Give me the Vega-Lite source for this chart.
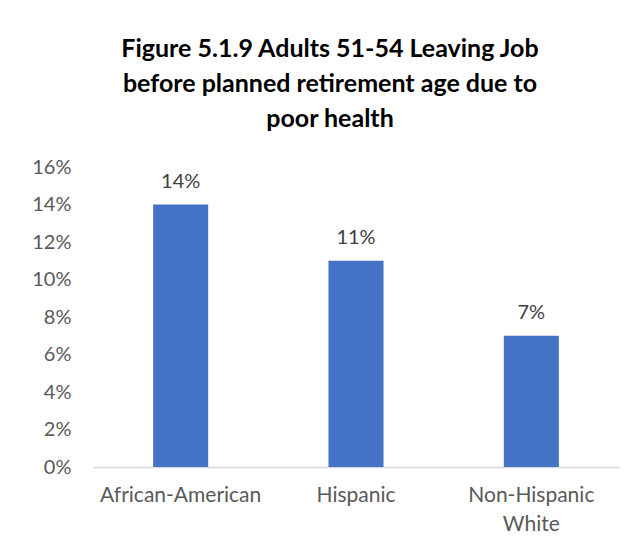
{
  "$schema": "https://vega.github.io/schema/vega-lite/v6.json",
  "autosize": "none",
  "width": 526,
  "height": 300,
  "padding": {"left": 93, "top": 167, "right": 15, "bottom": 83},
  "background": "white",
  "config": {"view": {"stroke": null}, "font": "Lato"},
  "title": {
    "text": ["Figure 5.1.9 Adults 51-54 Leaving Job", "before planned retirement age due to", "poor health"],
    "fontSize": 25,
    "fontWeight": "bold",
    "font": "Lato",
    "color": "#000000",
    "lineHeight": 35,
    "anchor": "middle",
    "dx": -26,
    "offset": 25
  },
  "data": {
    "values": [
      {"group": "African-American", "value": 0.14},
      {"group": "Hispanic", "value": 0.11},
      {"group": "Non-Hispanic White", "value": 0.07}
    ]
  },
  "encoding": {
    "x": {
      "field": "group",
      "type": "nominal",
      "sort": null,
      "scale": {"paddingInner": 0.686, "paddingOuter": 0.343},
      "axis": {
        "title": null,
        "labelAngle": 0,
        "labelFontSize": 21,
        "labelColor": "#595959",
        "labelPadding": 17,
        "labelLineHeight": 29,
        "ticks": false,
        "domainColor": "#d9d9d9",
        "domainWidth": 1.5,
        "labelExpr": "datum.label == 'Non-Hispanic White' ? ['Non-Hispanic', 'White'] : datum.label"
      }
    },
    "y": {
      "field": "value",
      "type": "quantitative",
      "scale": {"domain": [0, 0.16]},
      "axis": {
        "title": null,
        "format": ".0%",
        "values": [0, 0.02, 0.04, 0.06, 0.08, 0.1, 0.12, 0.14, 0.16],
        "grid": false,
        "domain": false,
        "ticks": false,
        "labelFontSize": 20,
        "labelColor": "#595959",
        "labelPadding": 22
      }
    }
  },
  "layer": [
    {"mark": {"type": "bar", "color": "#4472C4"}},
    {
      "mark": {"type": "text", "dy": -23, "fontSize": 20, "color": "#404040"},
      "encoding": {"text": {"field": "value", "type": "quantitative", "format": ".0%"}}
    }
  ]
}
